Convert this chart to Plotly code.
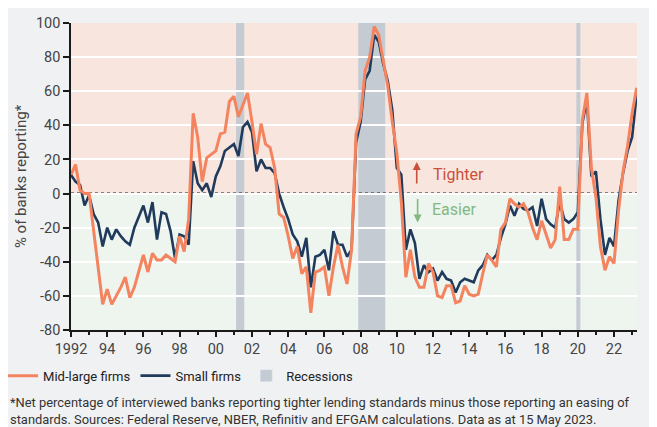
import plotly.graph_objects as go

# ---------------- data (quarterly, 1992Q1 .. 2023Q2) ----------------
start_year = 1992
mid_large = [
    11, 17, 2, 0,        # 1992
    0, -22, -45, -65,    # 1993
    -56, -65, -60, -55,  # 1994
    -49, -61, -55, -46,  # 1995
    -36, -46, -35, -39,  # 1996
    -39, -36, -38, -40,  # 1997
    -25, -34, -15, 47,   # 1998
    33, 7, 21, 23,       # 1999
    25, 35, 36, 54,      # 2000
    57, 45, 52, 59,      # 2001
    42, 23, 41, 29,      # 2002
    27, 15, -12, -14,    # 2003
    -25, -38, -31, -47,  # 2004
    -43, -70, -46, -45,  # 2005
    -43, -60, -43, -30,  # 2006
    -43, -53, -33, 35,   # 2007
    45, 72, 80, 98,      # 2008
    93, 78, 63, 42,      # 2009
    24, -5, -49, -33,    # 2010
    -49, -55, -55, -41,  # 2011
    -46, -60, -61, -54,  # 2012
    -54, -64, -63, -54,  # 2013
    -59, -60, -59, -47,  # 2014
    -36, -39, -43, -21,  # 2015
    -17, -3, -6, -8,     # 2016
    -6, -11, -20, -27,   # 2017
    -16, -24, -32, -27,  # 2018
    4, -27, -27, -21,    # 2019
    -21, 43, 59, 15,     # 2020
    -2, -31, -45, -37,   # 2021
    -41, -10, 13, 28,    # 2022
    47, 62,              # 2023
]
small = [
    11, 7, 5, -7,        # 1992
    -1, -12, -17, -31,   # 1993
    -20, -27, -21, -25,  # 1994
    -28, -30, -20, -13,  # 1995
    -7, -17, -5, -27,    # 1996
    -11, -12, -22, -38,  # 1997
    -24, -25, -30, 19,   # 1998
    6, 2, 6, -2,         # 1999
    10, 16, 25, 27,      # 2000
    29, 22, 39, 42,      # 2001
    36, 13, 20, 15,      # 2002
    15, 12, 0, -8,       # 2003
    -15, -24, -28, -37,  # 2004
    -26, -55, -37, -36,  # 2005
    -33, -45, -22, -30,  # 2006
    -30, -37, -33, 30,   # 2007
    42, 67, 72, 93,      # 2008
    89, 76, 66, 49,      # 2009
    15, 11, -33, -21,    # 2010
    -29, -50, -42, -46,  # 2011
    -44, -51, -46, -50,  # 2012
    -51, -58, -52, -50,  # 2013
    -51, -52, -45, -42,  # 2014
    -36, -39, -36, -26,  # 2015
    -18, -7, -13, -6,    # 2016
    -9, -10, -8, -19,    # 2017
    -3, -15, -18, -20,   # 2018
    -5, -15, -17, -15,   # 2019
    -11, 41, 55, 10,     # 2020
    13, -15, -36, -26,   # 2021
    -31, -4, 12, 25,     # 2022
    33, 58,              # 2023
]
recession_start = [2001.12, 2007.87, 2019.92]
recession_end = [2001.57, 2009.36, 2020.14]

x_tickvals = [1992, 1994, 1996, 1998, 2000, 2002, 2004, 2006, 2008, 2010,
              2012, 2014, 2016, 2018, 2020, 2022]
x_ticktext = ["1992", "94", "96", "98", "00", "02", "04", "06", "08", "10",
              "12", "14", "16", "18", "20", "22"]
y_tickvals = [-80, -60, -40, -20, 0, 20, 40, 60, 80, 100]
y_ticktext = ["-80", "-60", "-40", "-20", "0", "20", "40", "60", "80", "100"]

quarters = [start_year + i / 4 for i in range(len(mid_large))]

# ---------------- style ----------------
FONT = "Roboto"
ORANGE = "#f4845f"
NAVY = "#203a5c"
PINK = "#f8e6de"
GREEN = "#eef4ee"
REC = "#c4cbd3"
BG = "#f0f1f3"

fig = go.Figure()

fig.add_trace(go.Bar(x=[None], y=[None], name="Recessions", marker_color=REC,
                     legendrank=3))
fig.add_trace(go.Scatter(x=quarters, y=small, mode="lines", name="Small firms",
                         line=dict(color=NAVY, width=2.6), legendrank=2))
fig.add_trace(go.Scatter(x=quarters, y=mid_large, mode="lines", name="Mid-large firms",
                         line=dict(color=ORANGE, width=3), legendrank=1))

# background bands
fig.add_shape(type="rect", xref="paper", x0=0, x1=1, yref="y", y0=0, y1=100,
              fillcolor=PINK, line_width=0, layer="below")
fig.add_shape(type="rect", xref="paper", x0=0, x1=1, yref="y", y0=-80, y1=0,
              fillcolor=GREEN, line_width=0, layer="below")
for s, e in zip(recession_start, recession_end):
    fig.add_shape(type="rect", xref="x", x0=s, x1=e, yref="paper", y0=0, y1=1,
                  fillcolor=REC, line_width=0, layer="below")
# dotted zero line
fig.add_shape(type="line", xref="paper", x0=0, x1=1, yref="y", y0=0, y1=0,
              line=dict(color="#1a1a1a", width=2, dash="dot"), layer="between")

# white right border of the card
fig.add_shape(type="rect", xref="paper", yref="paper", x0=1.0318, x1=1.1, y0=-0.4, y1=1.2,
              fillcolor="white", line_width=0, layer="above")

# Tighter / Easier annotations
RED = "#c9503a"
GRN = "#82b97f"
fig.add_annotation(x=2011.1, y=18.5, ax=0, ay=23, text="", showarrow=True,
                   arrowhead=2, arrowsize=1, arrowwidth=1.6, arrowcolor=RED)
fig.add_annotation(x=2011.9, y=11, text="Tighter", showarrow=False, xanchor="left",
                   font=dict(family=FONT, size=16, color=RED))
fig.add_annotation(x=2011.15, y=-17, ax=0, ay=-25, text="", showarrow=True,
                   arrowhead=2, arrowsize=1, arrowwidth=1.6, arrowcolor=GRN)
fig.add_annotation(x=2011.85, y=-9.5, text="Easier", showarrow=False, xanchor="left",
                   font=dict(family=FONT, size=16, color=GRN))

# footnote
fig.add_annotation(xref="paper", yref="paper", x=-0.111, y=-0.205, xanchor="left",
                   yanchor="top", align="left", showarrow=False,
                   text="*Net percentage of interviewed banks reporting tighter lending standards minus those reporting an easing of<br>"
                        "standards. Sources: Federal Reserve, NBER, Refinitiv and EFGAM calculations. Data as at 15 May 2023.",
                   font=dict(family=FONT, size=12.9, color="#333333"))

# the page body adds an 8px offset, so the figure is 8px smaller than the window
fig.update_layout(
    width=649, height=419,
    margin=dict(l=63, r=20, t=15, b=97, autoexpand=False),
    paper_bgcolor=BG, plot_bgcolor=BG,
    font=dict(family=FONT, size=14, color="#444444"),
    showlegend=True,
    legend=dict(orientation="h", x=-0.12, y=-0.10, xanchor="left", yanchor="top",
                font=dict(family=FONT, size=13, color="#222222"),
                bgcolor="rgba(0,0,0,0)", itemwidth=30),
    xaxis=dict(range=[1992, 2023.27], tickvals=x_tickvals, ticktext=x_ticktext,
               showgrid=False, zeroline=False, showline=True, linecolor="#1a1a1a",
               linewidth=1.5, ticks="outside", ticklen=5, tickwidth=1.5,
               tickcolor="#1a1a1a", tickfont=dict(size=14.5, color="#444444"),
               automargin=False,
               minor=dict(ticks="outside", dtick=1, tick0=1992, ticklen=3,
                          tickwidth=1.5, tickcolor="#1a1a1a", showgrid=False)),
    yaxis=dict(range=[-80, 100], tickvals=y_tickvals, ticktext=y_ticktext,
               showgrid=True, gridcolor="white", gridwidth=1.5, zeroline=False,
               showline=True, linecolor="#1a1a1a", linewidth=1.5, ticks="outside",
               ticklen=6, tickwidth=1.5, tickcolor="#1a1a1a", automargin=False,
               tickfont=dict(size=14.5, color="#444444"),
               title=dict(text="% of banks reporting*", standoff=6,
                          font=dict(size=15, color="#444444"))),
)

fig.write_html("out.html")
